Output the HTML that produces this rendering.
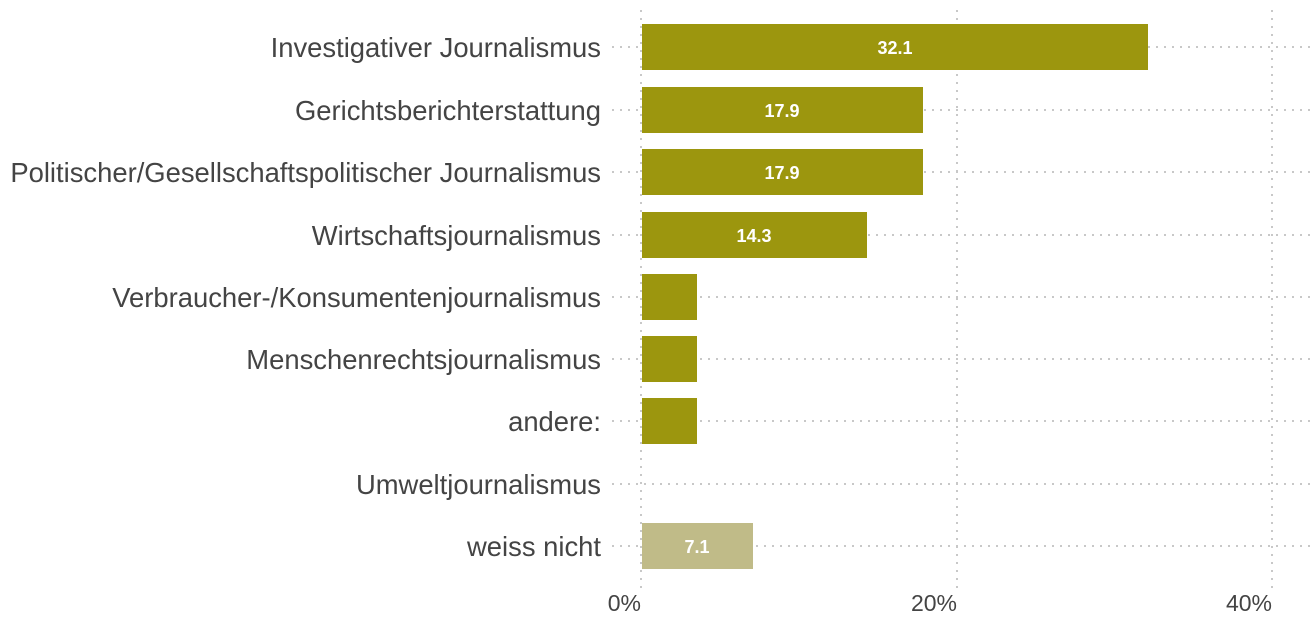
<!DOCTYPE html>
<html><head><meta charset="utf-8"><style>
html,body{margin:0;padding:0;background:#fff;width:1315px;height:624px;overflow:hidden}
text{font-family:"Liberation Sans",Arial,sans-serif}
</style></head><body>
<svg width="1315" height="624" viewBox="0 0 1315 624" xmlns="http://www.w3.org/2000/svg">
<g stroke="#c8c8c8" stroke-width="2" stroke-dasharray="2,6">
<line x1="641" y1="10" x2="641" y2="590"/>
<line x1="957" y1="10" x2="957" y2="590"/>
<line x1="1272" y1="10" x2="1272" y2="590"/>
<line x1="612" y1="47" x2="1315" y2="47"/>
<line x1="612" y1="110" x2="1315" y2="110"/>
<line x1="612" y1="172" x2="1315" y2="172"/>
<line x1="612" y1="235" x2="1315" y2="235"/>
<line x1="612" y1="297" x2="1315" y2="297"/>
<line x1="612" y1="359" x2="1315" y2="359"/>
<line x1="612" y1="421" x2="1315" y2="421"/>
<line x1="612" y1="484" x2="1315" y2="484"/>
<line x1="612" y1="546" x2="1315" y2="546"/>
</g>
<g fill="#9c960e">
<rect x="642" y="24" width="506" height="46"/>
<rect x="642" y="87" width="281" height="46"/>
<rect x="642" y="149" width="281" height="46"/>
<rect x="642" y="212" width="225" height="46"/>
<rect x="642" y="274" width="55" height="46"/>
<rect x="642" y="336" width="55" height="46"/>
<rect x="642" y="398" width="55" height="46"/>
</g>
<rect x="642" y="523" width="111" height="46" fill="#c0bb88"/>
<g fill="#fff" font-weight="bold" font-size="18" text-anchor="middle">
<text x="895" y="54">32.1</text>
<text x="782" y="117">17.9</text>
<text x="782" y="179">17.9</text>
<text x="754" y="242">14.3</text>
<text x="697" y="553">7.1</text>
</g>
<g fill="#444" font-size="27.4" text-anchor="end">
<text x="601" y="57">Investigativer Journalismus</text>
<text x="601" y="120">Gerichtsberichterstattung</text>
<text x="601" y="182">Politischer/Gesellschaftspolitischer Journalismus</text>
<text x="601" y="245">Wirtschaftsjournalismus</text>
<text x="601" y="307">Verbraucher-/Konsumentenjournalismus</text>
<text x="601" y="369">Menschenrechtsjournalismus</text>
<text x="601" y="431">andere:</text>
<text x="601" y="494">Umweltjournalismus</text>
<text x="601" y="556">weiss nicht</text>
</g>
<g fill="#444" font-size="23" text-anchor="end">
<text x="641" y="611">0%</text>
<text x="957" y="611">20%</text>
<text x="1272" y="611">40%</text>
</g>
</svg>
</body></html>
